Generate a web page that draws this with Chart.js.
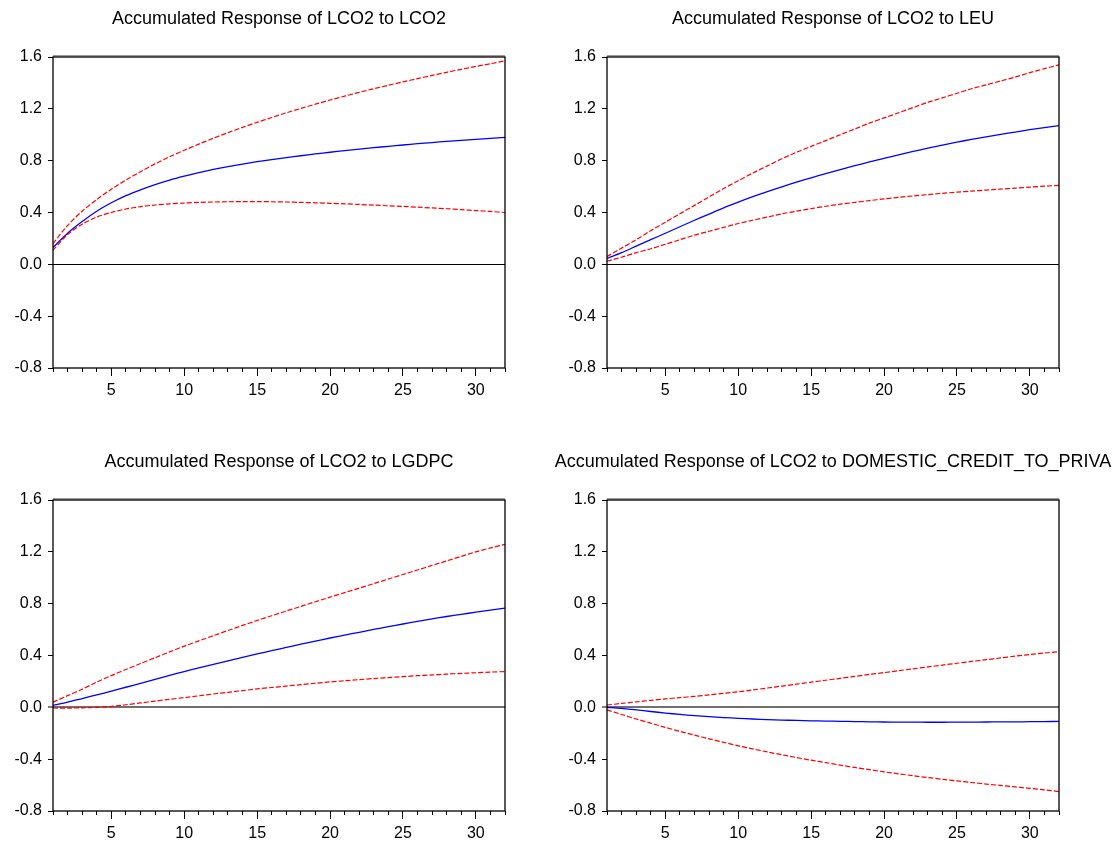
<!DOCTYPE html>
<html>
<head>
<meta charset="utf-8">
<script src="https://cdn.jsdelivr.net/npm/chart.js@4.4.1/dist/chart.umd.min.js"></script>
<style>
  html, body { margin: 0; padding: 0; background: #fff; }
  body { width: 1119px; height: 844px; position: relative; overflow: hidden; }
  .panel { position: absolute; width: 558px; height: 400px; }
</style>
</head>
<body>
<div class="panel" style="left:0px;top:0px"><canvas id="c1" width="558" height="400"></canvas></div>
<div class="panel" style="left:554px;top:0px"><canvas id="c2" width="558" height="400"></canvas></div>
<div class="panel" style="left:0px;top:443px"><canvas id="c3" width="558" height="400"></canvas></div>
<div class="panel" style="left:554px;top:443px"><canvas id="c4" width="558" height="400"></canvas></div>
<script>
// periods
const horizon = [1, 2, 3, 4, 5, 6, 7, 8, 9, 10, 11, 12, 13, 14, 15, 16, 17, 18, 19, 20, 21, 22, 23, 24, 25, 26, 27, 28, 29, 30, 31, 32];
const xTickValues = [5, 10, 15, 20, 25, 30];
const yTickValues = [-0.8, -0.4, 0.0, 0.4, 0.8, 1.2, 1.6];

const titles = [
   'Accumulated Response of LCO2 to LCO2',
   'Accumulated Response of LCO2 to LEU',
   'Accumulated Response of LCO2 to LGDPC',
   'Accumulated Response of LCO2 to DOMESTIC_CREDIT_TO_PRIVA',
];

// LCO2 -> LCO2
const respLco2 = [0.13, 0.24, 0.33, 0.41, 0.475, 0.53, 0.575, 0.615, 0.65, 0.68, 0.707, 0.732, 0.754, 0.774, 0.792, 0.808, 0.823, 0.838, 0.852, 0.865, 0.877, 0.889, 0.9, 0.911, 0.921, 0.931, 0.94, 0.949, 0.957, 0.965, 0.972, 0.98];
const upperLco2 = [0.16, 0.30, 0.41, 0.50, 0.58, 0.65, 0.715, 0.775, 0.83, 0.88, 0.928, 0.973, 1.016, 1.057, 1.096, 1.133, 1.169, 1.203, 1.236, 1.268, 1.298, 1.327, 1.355, 1.382, 1.408, 1.433, 1.458, 1.482, 1.505, 1.527, 1.548, 1.57];
const lowerLco2 = [0.11, 0.23, 0.31, 0.365, 0.40, 0.427, 0.445, 0.458, 0.467, 0.473, 0.478, 0.481, 0.483, 0.484, 0.484, 0.483, 0.481, 0.478, 0.475, 0.471, 0.467, 0.462, 0.457, 0.452, 0.447, 0.441, 0.435, 0.429, 0.422, 0.415, 0.408, 0.40];

// LCO2 -> LEU
const respLeu = [0.045, 0.09, 0.14, 0.19, 0.24, 0.29, 0.34, 0.388, 0.436, 0.48, 0.522, 0.561, 0.598, 0.634, 0.668, 0.7, 0.731, 0.761, 0.79, 0.818, 0.845, 0.871, 0.896, 0.92, 0.943, 0.964, 0.984, 1.003, 1.021, 1.039, 1.055, 1.07];
const upperLeu = [0.06, 0.125, 0.19, 0.26, 0.325, 0.39, 0.455, 0.52, 0.585, 0.645, 0.705, 0.76, 0.815, 0.865, 0.91, 0.955, 1.0, 1.045, 1.09, 1.13, 1.17, 1.21, 1.25, 1.285, 1.32, 1.355, 1.385, 1.415, 1.445, 1.48, 1.51, 1.54];
const lowerLeu = [0.025, 0.055, 0.09, 0.12, 0.155, 0.19, 0.225, 0.255, 0.285, 0.315, 0.34, 0.365, 0.39, 0.41, 0.43, 0.448, 0.464, 0.478, 0.492, 0.505, 0.517, 0.528, 0.538, 0.548, 0.557, 0.565, 0.573, 0.58, 0.588, 0.596, 0.603, 0.61];

// LCO2 -> LGDPC
const respGdp = [0.015, 0.04, 0.068, 0.096, 0.125, 0.155, 0.185, 0.215, 0.246, 0.276, 0.304, 0.332, 0.359, 0.386, 0.412, 0.437, 0.462, 0.487, 0.511, 0.535, 0.557, 0.579, 0.601, 0.622, 0.643, 0.663, 0.683, 0.701, 0.718, 0.734, 0.75, 0.765];
const upperGdp = [0.04, 0.09, 0.14, 0.195, 0.245, 0.292, 0.338, 0.383, 0.428, 0.472, 0.513, 0.553, 0.593, 0.632, 0.67, 0.707, 0.743, 0.779, 0.815, 0.85, 0.885, 0.92, 0.955, 0.99, 1.025, 1.06, 1.095, 1.13, 1.165, 1.2, 1.23, 1.257];
const lowerGdp = [-0.005, -0.006, -0.004, 0.0, 0.008, 0.02, 0.034, 0.048, 0.062, 0.075, 0.089, 0.103, 0.116, 0.129, 0.142, 0.153, 0.164, 0.175, 0.186, 0.196, 0.205, 0.214, 0.222, 0.23, 0.237, 0.244, 0.25, 0.256, 0.262, 0.267, 0.272, 0.276];

// LCO2 -> DOMESTIC_CREDIT_TO_PRIVATE
const respCredit = [0.0, -0.008, -0.02, -0.032, -0.044, -0.055, -0.064, -0.072, -0.079, -0.085, -0.09, -0.095, -0.098, -0.101, -0.104, -0.106, -0.108, -0.11, -0.112, -0.113, -0.114, -0.114, -0.115, -0.115, -0.114, -0.114, -0.113, -0.112, -0.112, -0.111, -0.11, -0.109];
const upperCredit = [0.018, 0.03, 0.042, 0.054, 0.065, 0.075, 0.085, 0.096, 0.108, 0.12, 0.134, 0.149, 0.164, 0.179, 0.194, 0.209, 0.224, 0.239, 0.254, 0.268, 0.283, 0.297, 0.312, 0.326, 0.34, 0.354, 0.368, 0.381, 0.395, 0.408, 0.419, 0.43];
const lowerCredit = [-0.02, -0.055, -0.09, -0.122, -0.155, -0.185, -0.215, -0.243, -0.27, -0.297, -0.321, -0.344, -0.366, -0.387, -0.408, -0.427, -0.446, -0.464, -0.481, -0.498, -0.513, -0.528, -0.542, -0.555, -0.568, -0.58, -0.592, -0.603, -0.614, -0.625, -0.637, -0.65];

const TICK_FONT = { family: 'Liberation Sans, Arial, sans-serif', size: 16 };
const TITLE_FONT = { family: 'Liberation Sans, Arial, sans-serif', size: 18, weight: 'normal' };

// box round the plot area
const framePlugin = {
   id: 'frame',
   afterDatasetsDraw(chart) {
      const { ctx, chartArea } = chart;
      ctx.save();
      ctx.strokeStyle = '#000';
      ctx.lineWidth = 1.3;
      ctx.strokeRect(chartArea.left, chartArea.top, chartArea.right - chartArea.left, chartArea.bottom - chartArea.top);
      ctx.beginPath();
      ctx.lineWidth = 1;
      ctx.strokeStyle = '#333';
      ctx.moveTo(chartArea.left, chartArea.top - 1);
      ctx.lineTo(chartArea.right, chartArea.top - 1);
      ctx.stroke();
      ctx.restore();
   },
};

const toPoints = (values) => values.map((v, i) => ({ x: horizon[i], y: v }));

const makeChart = (id, title, resp, upper, lower, titleTop, zeroColor, zeroWidth) => {
   const canvas = document.getElementById(id);
   return new Chart(canvas, {
      type: 'line',
      data: {
         datasets: [
            {
               data: toPoints(upper),
               borderColor: '#ff0000',
               borderWidth: 1.2,
               borderDash: [5, 2],
            },
            {
               data: toPoints(lower),
               borderColor: '#ff0000',
               borderWidth: 1.2,
               borderDash: [5, 2],
            },
            {
               data: toPoints(resp),
               borderColor: '#0000ff',
               borderWidth: 1.3,
            },
         ],
      },
      options: {
         responsive: false,
         animation: false,
         devicePixelRatio: 1,
         layout: { padding: 0 },
         elements: { point: { radius: 0 }, line: { tension: 0.3 } },
         plugins: {
            legend: { display: false },
            tooltip: { enabled: false },
            title: {
               display: true,
               text: title,
               color: '#000',
               font: TITLE_FONT,
               padding: { top: titleTop, bottom: 57 - titleTop - 21.6 },
            },
         },
         scales: {
            x: {
               type: 'linear',
               position: 'bottom',
               weight: 0,
               min: 1,
               max: 32,
               afterBuildTicks: (scale) => { scale.ticks = horizon.map((v) => ({ value: v })); },
               afterFit: (scale) => { scale.height = 0; },
               ticks: { callback: () => '', autoSkip: false },
               grid: { drawOnChartArea: false, tickLength: 4, tickColor: '#000' },
               border: { display: false },
            },
            xMajor: {
               type: 'linear',
               position: 'bottom',
               weight: 1,
               min: 1,
               max: 32,
               afterBuildTicks: (scale) => { scale.ticks = xTickValues.map((v) => ({ value: v })); },
               afterFit: (scale) => { scale.height = 32; },
               ticks: { font: TICK_FONT, color: '#000', padding: 5, maxRotation: 0, autoSkip: false },
               grid: { drawOnChartArea: false, tickLength: 8, tickColor: '#000' },
               border: { display: false },
            },
            y: {
               min: -0.8,
               max: 1.6,
               afterBuildTicks: (scale) => { scale.ticks = yTickValues.map((v) => ({ value: v })); },
               afterFit: (scale) => { scale.width = 53; },
               ticks: {
                  font: TICK_FONT,
                  color: '#000',
                  padding: 6,
                  callback: (v) => Number(v).toFixed(1),
               },
               grid: {
                  color: (c) => (c.tick && Math.abs(c.tick.value) < 1e-9 ? zeroColor : 'rgba(0,0,0,0)'),
                  lineWidth: (c) => (c.tick && Math.abs(c.tick.value) < 1e-9 ? zeroWidth : 1),
                  tickLength: 5,
                  tickColor: '#000',
                  tickWidth: 1,
               },
               border: { display: false },
            },
            // empty right side so the title centres over the plot
            yRight: {
               position: 'right',
               min: -0.8,
               max: 1.6,
               afterFit: (scale) => { scale.width = 53; },
               ticks: { display: false },
               grid: { display: false },
               border: { display: false },
            },
         },
      },
      plugins: [framePlugin],
   });
};

makeChart('c1', titles[0], respLco2, upperLco2, lowerLco2, 8, '#000', 1);
makeChart('c2', titles[1], respLeu, upperLeu, lowerLeu, 8, '#000', 1);
makeChart('c3', titles[2], respGdp, upperGdp, lowerGdp, 8, '#707070', 2);
makeChart('c4', titles[3], respCredit, upperCredit, lowerCredit, 8, '#707070', 2);
</script>
</body>
</html>
